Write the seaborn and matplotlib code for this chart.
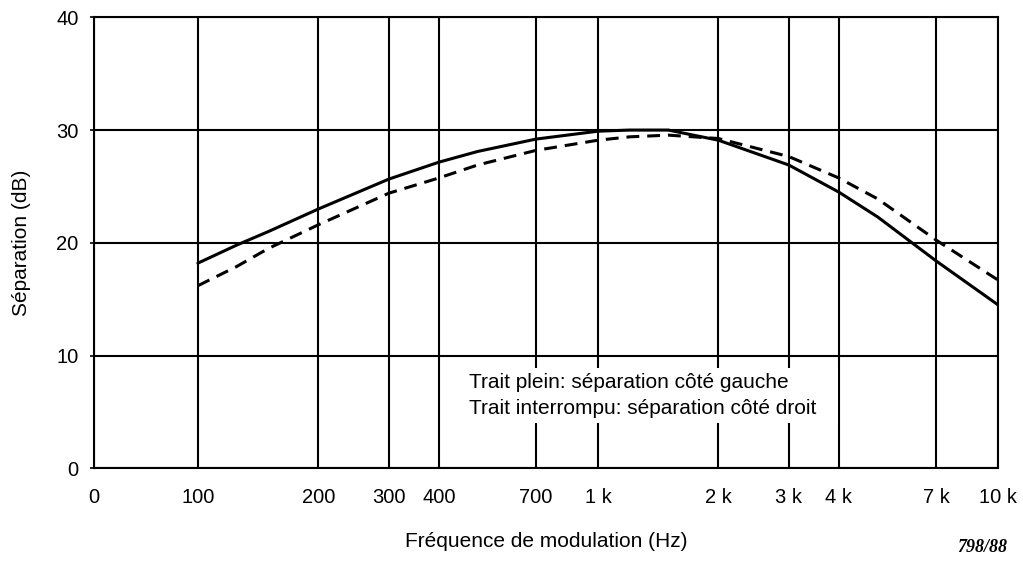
import matplotlib

matplotlib.use("Agg")
import matplotlib.pyplot as plt
import matplotlib.patches as mpatches
import pandas as pd
import seaborn as sns

# frequency points (Hz) and separation (dB)
freq_hz = [100, 125, 150, 200, 300, 400, 500, 700, 1000, 1200, 1500, 2000, 3000, 4000, 5000, 7000, 10000]
sep_left = [18.2, 19.8, 21.0, 23.0, 25.65, 27.15, 28.1, 29.2, 29.9, 30.0, 30.0, 29.1, 26.9, 24.5, 22.3, 18.4, 14.5]
sep_right = [16.2, 17.9, 19.5, 21.6, 24.4, 25.75, 26.9, 28.2, 29.1, 29.4, 29.55, 29.25, 27.65, 25.75, 23.9, 20.25, 16.7]

x_ticks = [55, 100, 200, 300, 400, 700, 1000, 2000, 3000, 4000, 7000, 10000]
x_labels = ["0", "100", "200", "300", "400", "700", "1 k", "2 k", "3 k", "4 k", "7 k", "10 k"]
y_ticks = [0, 10, 20, 30, 40]

note_lines = [
    "Trait plein: séparation côté gauche",
    "Trait interrompu: séparation côté droit",
]


def main() -> None:
    sns.set_theme(style="ticks")
    plt.rcParams["font.family"] = ["Liberation Sans", "DejaVu Sans"]
    plt.rcParams["text.color"] = "black"

    df = pd.DataFrame(
        {
            "freq": freq_hz * 2,
            "sep": sep_left + sep_right,
            "side": ["gauche"] * len(freq_hz) + ["droit"] * len(freq_hz),
        }
    )

    fig = plt.figure(figsize=(10.23, 5.63), dpi=100)
    ax = fig.add_axes([0.0919, 0.168, 0.8837, 0.8013])

    sns.lineplot(
        data=df,
        x="freq",
        y="sep",
        hue="side",
        style="side",
        palette={"gauche": "black", "droit": "black"},
        dashes={"gauche": "", "droit": (4.2, 2.6)},
        linewidth=2.2,
        legend=False,
        sort=False,
        ax=ax,
        zorder=3,
    )

    ax.set_xscale("log")
    ax.set_xlim(55, 10000)
    ax.set_ylim(0, 40)
    ax.set_xticks(x_ticks)
    ax.set_xticklabels(x_labels)
    ax.minorticks_off()
    ax.set_yticks(y_ticks)

    ax.grid(True, which="major", color="black", linewidth=1.5)
    ax.set_axisbelow(True)
    for side in ["left", "right", "top", "bottom"]:
        ax.spines[side].set_color("black")
        ax.spines[side].set_linewidth(1.5)

    ax.tick_params(axis="x", length=0, pad=14, labelsize=14.5, colors="black")
    ax.tick_params(axis="y", length=3, width=1.2, pad=8, labelsize=14.5, colors="black")

    ax.set_xlabel("Fréquence de modulation (Hz)", fontsize=15, labelpad=18, color="black")
    ax.set_ylabel("Séparation (dB)", fontsize=15, labelpad=18, color="black")

    # white box behind the note, interrupting the grid
    box = mpatches.Rectangle(
        (0.405, 0.101), 0.418, 0.122,
        transform=ax.transAxes, facecolor="white", edgecolor="none", zorder=2,
    )
    ax.add_patch(box)
    ax.text(0.415, 0.190, note_lines[0], transform=ax.transAxes, fontsize=15,
            va="center", ha="left", color="black", zorder=4)
    ax.text(0.415, 0.132, note_lines[1], transform=ax.transAxes, fontsize=15,
            va="center", ha="left", color="black", zorder=4)

    fig.text(0.985, 0.012, "798/88", family=["Liberation Serif", "DejaVu Serif"],
             style="italic", weight="bold", fontsize=13, ha="right", va="bottom",
             color="black")

    fig.savefig("out.png", dpi=100)
    plt.close(fig)


if __name__ == "__main__":
    main()
